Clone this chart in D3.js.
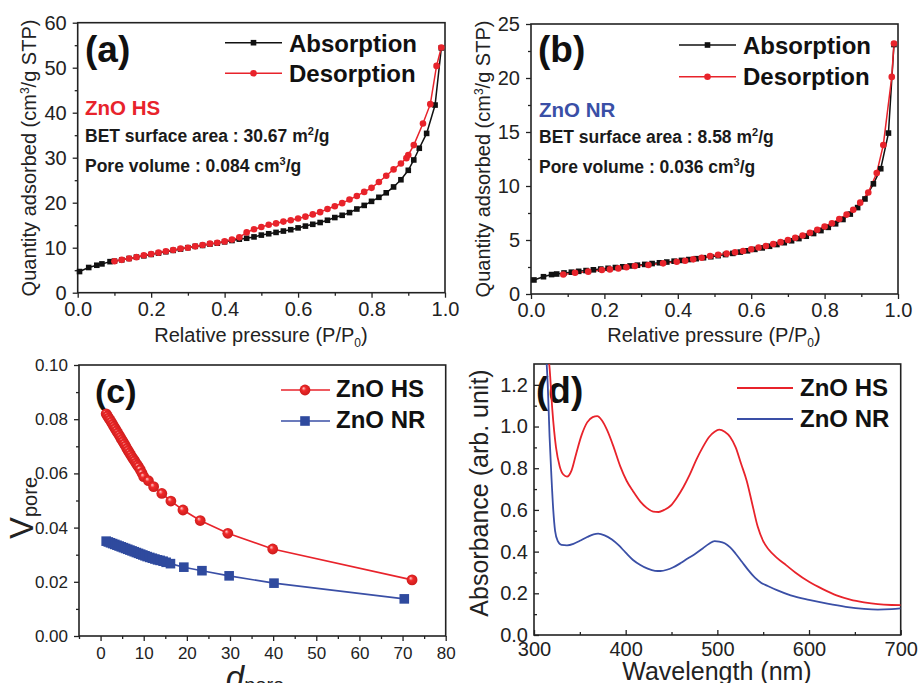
<!DOCTYPE html>
<html><head><meta charset="utf-8">
<script src="https://cdn.jsdelivr.net/npm/d3@7"></script>
<style>body{margin:0;background:#fff} svg{display:block} text{font-family:"Liberation Sans",Arial,Helvetica,sans-serif}</style>
</head><body>
<svg id="c" width="918" height="683"></svg>
<script>
// ---------- DATA ----------
// (a) ZnO HS isotherm
const aAbsX = [0.005,0.03,0.052,0.066,0.088,0.10,0.12,0.14,0.16,0.18,0.20,0.22,0.24,0.26,0.28,0.30,0.32,0.34,0.36,0.38,0.40,0.42,0.44,0.46,0.48,0.50,0.52,0.54,0.56,0.58,0.60,0.62,0.64,0.66,0.68,0.70,0.72,0.74,0.76,0.78,0.80,0.82,0.84,0.86,0.88,0.90,0.915,0.93,0.95,0.973,0.99];
const aAbsY = [4.7,5.6,6.1,6.4,6.9,7.0,7.3,7.6,7.9,8.2,8.5,8.8,9.1,9.4,9.7,10.0,10.3,10.5,10.8,11.0,11.3,11.6,11.9,12.1,12.4,12.8,13.1,13.4,13.7,14.0,14.4,14.8,15.2,15.6,16.1,16.7,17.2,17.8,18.6,19.4,20.3,21.2,22.2,23.5,25.1,27.2,29.5,32.1,35.4,41.7,54.4];
const aDesX = [0.10,0.12,0.14,0.16,0.18,0.20,0.22,0.24,0.26,0.28,0.30,0.32,0.34,0.36,0.38,0.40,0.42,0.44,0.46,0.48,0.50,0.52,0.54,0.56,0.58,0.60,0.62,0.64,0.66,0.68,0.70,0.72,0.74,0.76,0.78,0.80,0.82,0.84,0.86,0.88,0.895,0.90,0.915,0.94,0.96,0.977,0.99];
const aDesY = [7.0,7.3,7.6,7.9,8.3,8.6,8.9,9.2,9.5,9.8,10.0,10.3,10.6,10.9,11.1,11.4,11.8,12.3,13.4,14.1,14.6,15.1,15.4,15.8,16.1,16.5,16.9,17.4,17.9,18.6,19.2,19.9,20.7,21.5,22.4,23.3,24.6,26.0,27.4,28.7,29.9,30.6,32.8,37.6,41.9,50.4,54.5];
// (b) ZnO NR isotherm
const bAbsX = [0.008,0.034,0.056,0.07,0.09,0.11,0.13,0.15,0.17,0.19,0.21,0.23,0.25,0.27,0.29,0.31,0.33,0.35,0.37,0.39,0.41,0.43,0.45,0.47,0.49,0.51,0.53,0.55,0.57,0.59,0.61,0.63,0.65,0.67,0.69,0.71,0.73,0.75,0.77,0.79,0.81,0.83,0.85,0.87,0.89,0.91,0.933,0.953,0.974,0.989];
const bAbsY = [1.3,1.6,1.8,1.85,1.95,2.02,2.1,2.17,2.24,2.31,2.38,2.45,2.52,2.6,2.67,2.74,2.82,2.89,2.96,3.04,3.11,3.19,3.27,3.36,3.45,3.55,3.65,3.76,3.88,4.0,4.13,4.27,4.42,4.58,4.75,4.93,5.13,5.35,5.6,5.87,6.17,6.5,6.9,7.4,8.0,8.8,10.2,11.6,14.9,23.1];
const bDesX = [0.088,0.12,0.156,0.193,0.215,0.238,0.26,0.283,0.32,0.36,0.397,0.42,0.442,0.465,0.488,0.51,0.533,0.556,0.578,0.60,0.62,0.64,0.66,0.68,0.70,0.72,0.74,0.76,0.78,0.80,0.82,0.84,0.86,0.878,0.897,0.919,0.942,0.96,0.983,0.989];
const bDesY = [1.8,1.97,2.07,2.22,2.28,2.37,2.47,2.59,2.68,2.84,2.99,3.08,3.21,3.36,3.52,3.63,3.74,3.86,3.98,4.15,4.3,4.45,4.62,4.8,5.0,5.2,5.42,5.67,5.95,6.25,6.55,6.95,7.35,7.8,8.46,9.4,11.2,13.8,20.1,23.2];
// (c) pore size distribution
const cHSX = [1.3,1.6,1.9,2.2,2.5,2.8,3.1,3.4,3.7,4.0,4.3,4.6,4.9,5.2,5.5,5.8,6.1,6.4,6.7,7.0,7.3,7.6,7.9,8.2,8.5,8.8,9.2,9.6,10.0,11.1,12.3,14.2,16.3,19.1,23.1,29.5,39.9,72.2];
const cHSY = [0.0820,0.0812,0.0804,0.0797,0.0789,0.0781,0.0773,0.0765,0.0757,0.0749,0.0741,0.0733,0.0725,0.0717,0.0709,0.0701,0.0692,0.0684,0.0676,0.0668,0.0660,0.0653,0.0646,0.0638,0.0631,0.0624,0.0614,0.0601,0.0588,0.0573,0.0551,0.0526,0.0498,0.0465,0.0426,0.0379,0.0321,0.0207];
const cNRX = [1.3,1.8,2.3,2.8,3.3,3.8,4.3,4.8,5.3,5.8,6.3,6.8,7.3,7.8,8.3,8.8,9.3,9.8,10.3,10.8,11.4,12.0,12.6,13.2,13.8,14.5,15.2,16.2,19.3,23.5,29.8,40.2,70.4];
const cNRY = [0.0350,0.0347,0.0344,0.0341,0.0338,0.0335,0.0332,0.0329,0.0326,0.0323,0.0320,0.0317,0.0314,0.0311,0.0308,0.0305,0.0302,0.0299,0.0296,0.0293,0.0290,0.0287,0.0284,0.0281,0.0279,0.0276,0.0272,0.0267,0.0254,0.0241,0.0222,0.0195,0.0137];
// (d) absorbance spectra
const dHSX = [315,317,320,324,328,332,336,341,346,352,358,364,369,374,380,387,394,401,408,416,423,430,436,442,449,456,463,470,477,484,491,497,502,508,514,520,526,532,538,544,550,556,565,575,585,600,615,630,645,660,675,690,700];
const dHSY = [1.36,1.28,1.08,0.90,0.81,0.77,0.76,0.79,0.87,0.96,1.02,1.045,1.05,1.03,0.98,0.90,0.81,0.74,0.69,0.64,0.61,0.592,0.59,0.60,0.62,0.66,0.71,0.77,0.84,0.90,0.95,0.975,0.985,0.975,0.95,0.90,0.82,0.74,0.63,0.52,0.45,0.41,0.37,0.335,0.30,0.255,0.22,0.19,0.17,0.157,0.148,0.144,0.143];
const dNRX = [313,315,317,319,321,323,326,330,336,343,350,358,365,370,377,385,392,400,408,416,424,432,438,445,452,460,468,476,484,491,497,502,508,514,520,527,534,541,548,555,565,580,600,620,640,660,675,690,700];
const dNRY = [1.36,1.2,0.95,0.76,0.6,0.50,0.45,0.432,0.43,0.437,0.452,0.47,0.483,0.486,0.478,0.458,0.432,0.395,0.36,0.336,0.318,0.308,0.307,0.313,0.325,0.345,0.368,0.39,0.415,0.438,0.45,0.448,0.44,0.42,0.39,0.35,0.31,0.275,0.25,0.235,0.215,0.19,0.168,0.15,0.135,0.125,0.122,0.124,0.128];
// tick values
const isoXTicks = [0,0.2,0.4,0.6,0.8,1.0], isoXMinor = [0.1,0.3,0.5,0.7,0.9];
const aYTicks = [0,10,20,30,40,50,60], aYMinor = [5,15,25,35,45,55];
const bYTicks = [0,5,10,15,20,25], bYMinor = [2.5,7.5,12.5,17.5,22.5];
const cXTicks = [0,10,20,30,40,50,60,70,80], cXMinor = [-5,5,15,25,35,45,55,65,75];
const cYTicks = [0,0.02,0.04,0.06,0.08,0.10], cYMinor = [0.01,0.03,0.05,0.07,0.09];
const dXTicks = [300,400,500,600,700], dXMinor = [350,450,550,650];
const dYTicks = [0,0.2,0.4,0.6,0.8,1.0,1.2], dYMinor = [0.1,0.3,0.5,0.7,0.9,1.1];

// ---------- DRAW ----------
const svg = d3.select("#c");
const RED = "#e8232b", BLUE = "#3a4fa6", BLK = "#111";
const defs = svg.append("defs");
const grad = defs.append("radialGradient").attr("id","ball").attr("cx","50%").attr("cy","50%").attr("r","55%").attr("fx","35%").attr("fy","32%");
grad.append("stop").attr("offset","0%").attr("stop-color","#ffd0d0");
grad.append("stop").attr("offset","35%").attr("stop-color","#f02a2a");
grad.append("stop").attr("offset","100%").attr("stop-color","#c81a1a");

function makePanel(o){
  const x = d3.scaleLinear().domain(o.xd).range([o.L,o.R]);
  const y = d3.scaleLinear().domain(o.yd).range([o.B,o.T]);
  const g = svg.append("g");
  const sgn = o.inward ? -1 : 1;
  const fix = s => { s.select(".domain").remove(); s.selectAll("line").attr("stroke","#222").attr("stroke-width",1.3);
    s.selectAll("text").attr("font-size",o.fs).attr("fill","#222").attr("font-family",'"Liberation Sans",Arial,sans-serif'); };
  g.append("g").attr("transform",`translate(0,${o.B})`).call(d3.axisBottom(x).tickValues(o.xMinor).tickSize(sgn*3).tickFormat("")).call(fix);
  g.append("g").attr("transform",`translate(0,${o.B})`).call(d3.axisBottom(x).tickValues(o.xMajor).tickSize(sgn*5).tickPadding(o.xpad).tickFormat(o.xf)).call(fix);
  g.append("g").attr("transform",`translate(${o.L},0)`).call(d3.axisLeft(y).tickValues(o.yMinor).tickSize(sgn*3).tickFormat("")).call(fix);
  g.append("g").attr("transform",`translate(${o.L},0)`).call(d3.axisLeft(y).tickValues(o.yMajor).tickSize(sgn*5).tickPadding(o.ypad).tickFormat(o.yf)).call(fix);
  g.append("rect").attr("x",o.L).attr("y",o.T).attr("width",o.R-o.L).attr("height",o.B-o.T)
    .attr("fill","none").attr("stroke","#222").attr("stroke-width",1.6);
  return {x,y,g};
}
function rich(g, x, y, parts, attrs){
  const t = g.append("text").attr("x",x).attr("y",y);
  for (const k in attrs) t.attr(k, attrs[k]);
  let shift = 0;
  parts.forEach(p=>{
    const ts = t.append("tspan").text(p.t);
    let target = 0;
    if (p.sup) { ts.attr("font-size",p.fs); target = p.sup; }
    if (p.sub) { ts.attr("font-size",p.fs); target = p.sub; }
    ts.attr("dy", target - shift); shift = target;
  });
  return t;
}
function isoPanel(P, absX, absY, desX, desY){
  const line = d3.line().x(d=>P.x(d[0])).y(d=>P.y(d[1]));
  const abs = absX.map((v,i)=>[v,absY[i]]), des = desX.map((v,i)=>[v,desY[i]]);
  P.g.append("path").attr("d",line(abs)).attr("fill","none").attr("stroke",BLK).attr("stroke-width",1.5);
  P.g.append("path").attr("d",line(des)).attr("fill","none").attr("stroke",RED).attr("stroke-width",1.5);
  P.g.selectAll(null).data(abs).join("rect").attr("x",d=>P.x(d[0])-2.8).attr("y",d=>P.y(d[1])-2.8).attr("width",5.6).attr("height",5.6).attr("fill",BLK);
  P.g.selectAll(null).data(des).join("circle").attr("cx",d=>P.x(d[0])).attr("cy",d=>P.y(d[1])).attr("r",3.3).attr("fill",RED);
}
function isoLegend(g, x1, x2, y1, y2, tx, b1, b2){
  const xm = (x1+x2)/2;
  g.append("line").attr("x1",x1).attr("x2",x2).attr("y1",y1).attr("y2",y1).attr("stroke",BLK).attr("stroke-width",1.6);
  g.append("rect").attr("x",xm-2.8).attr("y",y1-2.8).attr("width",5.6).attr("height",5.6).attr("fill",BLK);
  g.append("line").attr("x1",x1).attr("x2",x2).attr("y1",y2).attr("y2",y2).attr("stroke",RED).attr("stroke-width",1.6);
  g.append("circle").attr("cx",xm).attr("cy",y2).attr("r",3.3).attr("fill",RED);
  g.append("text").attr("x",tx).attr("y",b1).attr("font-size",24).attr("font-weight","bold").attr("fill","#111").text("Absorption");
  g.append("text").attr("x",tx).attr("y",b2).attr("font-size",24).attr("font-weight","bold").attr("fill","#111").text("Desorption");
}
const bold = {"font-weight":"bold","font-size":17.5,"fill":"#1a1a1a"};

// ---- (a) ----
const A = makePanel({L:77.7,R:445,T:22.7,B:292.7,xd:[0,1],yd:[0,60],xMajor:isoXTicks,xMinor:isoXMinor,yMajor:aYTicks,yMinor:aYMinor,
  xf:d3.format(".1f"),yf:d3.format("d"),fs:20,xpad:4,ypad:6});
isoPanel(A, aAbsX, aAbsY, aDesX, aDesY);
A.g.append("text").attr("x",85).attr("y",62).attr("font-size",37).attr("font-weight","bold").attr("fill","#111").text("(a)");
isoLegend(A.g, 225, 282, 42.7, 73.3, 289, 51.7, 81.7);
A.g.append("text").attr("x",85).attr("y",115).attr("font-size",20.5).attr("font-weight","bold").attr("fill",RED).text("ZnO HS");
rich(A.g,85,142,[{t:"BET surface area : 30.67 m"},{t:"2",sup:-7,fs:11},{t:"/g",sup:0.001}],bold);
rich(A.g,85,172,[{t:"Pore volume : 0.084 cm"},{t:"3",sup:-7,fs:11},{t:"/g",sup:0.001}],bold);
rich(svg,261,342,[{t:"Relative pressure (P/P"},{t:"0",sub:5,fs:12},{t:")",sub:0.001}],{"font-size":20,"text-anchor":"middle","fill":"#222"});
rich(svg,0,0,[{t:"Quantity adsorbed (cm"},{t:"3",sup:-7,fs:12},{t:"/g STP)",sup:0.001}],{"font-size":20,"text-anchor":"middle","fill":"#222","transform":"translate(36,158) rotate(-90)"});

// ---- (b) ----
const B = makePanel({L:531,R:898,T:24,B:294,xd:[0,1],yd:[0,25],xMajor:isoXTicks,xMinor:isoXMinor,yMajor:bYTicks,yMinor:bYMinor,
  xf:d3.format(".1f"),yf:d3.format("d"),fs:20,xpad:4,ypad:6});
isoPanel(B, bAbsX, bAbsY, bDesX, bDesY);
B.g.append("text").attr("x",538).attr("y",62).attr("font-size",37).attr("font-weight","bold").attr("fill","#111").text("(b)");
isoLegend(B.g, 679, 736, 45, 76.7, 743, 54, 85);
B.g.append("text").attr("x",539).attr("y",117).attr("font-size",20.5).attr("font-weight","bold").attr("fill",BLUE).text("ZnO NR");
rich(B.g,539,143,[{t:"BET surface area : 8.58 m"},{t:"2",sup:-7,fs:11},{t:"/g",sup:0.001}],bold);
rich(B.g,539,173,[{t:"Pore volume : 0.036 cm"},{t:"3",sup:-7,fs:11},{t:"/g",sup:0.001}],bold);
rich(svg,714,342,[{t:"Relative pressure (P/P"},{t:"0",sub:5,fs:12},{t:")",sub:0.001}],{"font-size":20,"text-anchor":"middle","fill":"#222"});
rich(svg,0,0,[{t:"Quantity adsorbed (cm"},{t:"3",sup:-7,fs:12},{t:"/g STP)",sup:0.001}],{"font-size":20,"text-anchor":"middle","fill":"#222","transform":"translate(490,159) rotate(-90)"});

// ---- (c) ----
const C = makePanel({L:79,R:445.7,T:365,B:636,xd:[-5,80],yd:[0,0.1],xMajor:cXTicks,xMinor:cXMinor,yMajor:cYTicks,yMinor:cYMinor,
  xf:d3.format("d"),yf:d3.format(".2f"),fs:17,xpad:6,ypad:6});
C.g.append("text").attr("x",95).attr("y",403).attr("font-size",34).attr("font-weight","bold").attr("fill","#111").text("(c)");
{
  const line = d3.line().x(d=>C.x(d[0])).y(d=>C.y(d[1]));
  const hs = cHSX.map((v,i)=>[v,cHSY[i]]), nr = cNRX.map((v,i)=>[v,cNRY[i]]);
  C.g.append("path").attr("d",line(hs)).attr("fill","none").attr("stroke",RED).attr("stroke-width",1.6);
  C.g.append("path").attr("d",line(nr)).attr("fill","none").attr("stroke",BLUE).attr("stroke-width",1.6);
  C.g.selectAll(null).data(nr).join("rect").attr("x",d=>C.x(d[0])-4.8).attr("y",d=>C.y(d[1])-4.8).attr("width",9.6).attr("height",9.6).attr("fill","#2f4a9e");
  C.g.selectAll(null).data(hs).join("circle").attr("cx",d=>C.x(d[0])).attr("cy",d=>C.y(d[1])).attr("r",5.4).attr("fill","url(#ball)");
  // legend
  C.g.append("line").attr("x1",281).attr("x2",330).attr("y1",390).attr("y2",390).attr("stroke",RED).attr("stroke-width",1.6);
  C.g.append("circle").attr("cx",305).attr("cy",390).attr("r",5.4).attr("fill","url(#ball)");
  C.g.append("line").attr("x1",281).attr("x2",330).attr("y1",421).attr("y2",421).attr("stroke",BLUE).attr("stroke-width",1.6);
  C.g.append("rect").attr("x",300.2).attr("y",416.2).attr("width",9.6).attr("height",9.6).attr("fill","#2f4a9e");
  C.g.append("text").attr("x",336).attr("y",397).attr("font-size",24).attr("font-weight","bold").attr("fill","#111").text("ZnO HS");
  C.g.append("text").attr("x",336).attr("y",428).attr("font-size",24).attr("font-weight","bold").attr("fill","#111").text("ZnO NR");
}
rich(svg,0,0,[{t:"V"},{t:"pore",sub:4,fs:20}],{"font-size":33,"text-anchor":"middle","fill":"#222","transform":"translate(33,508) rotate(-90)"});
rich(svg,255,689,[{t:"d",},{t:"pore",sub:3,fs:20}],{"font-size":33,"text-anchor":"middle","fill":"#222","font-style":"normal"})
  .select("tspan").attr("font-style","italic");

// ---- (d) ----
const D = makePanel({L:534,R:900.7,T:364,B:635,xd:[300,700],yd:[0,1.3],xMajor:dXTicks,xMinor:dXMinor,yMajor:dYTicks,yMinor:dYMinor,
  xf:d3.format("d"),yf:d3.format(".1f"),fs:20,xpad:7,ypad:6,inward:true});
D.g.append("text").attr("x",536).attr("y",403).attr("font-size",37).attr("font-weight","bold").attr("fill","#111").text("(d)");
defs.append("clipPath").attr("id","dclip").append("rect").attr("x",534).attr("y",364).attr("width",366.7).attr("height",271);
{
  const line = d3.line().x(d=>D.x(d[0])).y(d=>D.y(d[1])).curve(d3.curveMonotoneX);
  const hs = dHSX.map((v,i)=>[v,dHSY[i]]), nr = dNRX.map((v,i)=>[v,dNRY[i]]);
  const cg = D.g.append("g").attr("clip-path","url(#dclip)");
  cg.append("path").attr("d",line(hs)).attr("fill","none").attr("stroke",RED).attr("stroke-width",1.8);
  cg.append("path").attr("d",line(nr)).attr("fill","none").attr("stroke",BLUE).attr("stroke-width",1.8);
  D.g.append("line").attr("x1",737).attr("x2",793).attr("y1",388).attr("y2",388).attr("stroke",RED).attr("stroke-width",1.8);
  D.g.append("line").attr("x1",737).attr("x2",793).attr("y1",419).attr("y2",419).attr("stroke",BLUE).attr("stroke-width",1.8);
  D.g.append("text").attr("x",800).attr("y",396).attr("font-size",24).attr("font-weight","bold").attr("fill","#111").text("ZnO HS");
  D.g.append("text").attr("x",800).attr("y",427).attr("font-size",24).attr("font-weight","bold").attr("fill","#111").text("ZnO NR");
}
svg.append("text").attr("x",717).attr("y",680).attr("font-size",25).attr("text-anchor","middle").attr("fill","#222").text("Wavelength (nm)");
svg.append("text").attr("transform","translate(488,493) rotate(-90)").attr("font-size",25).attr("text-anchor","middle").attr("fill","#222").text("Absorbance (arb. unit)");
</script>
</body></html>
